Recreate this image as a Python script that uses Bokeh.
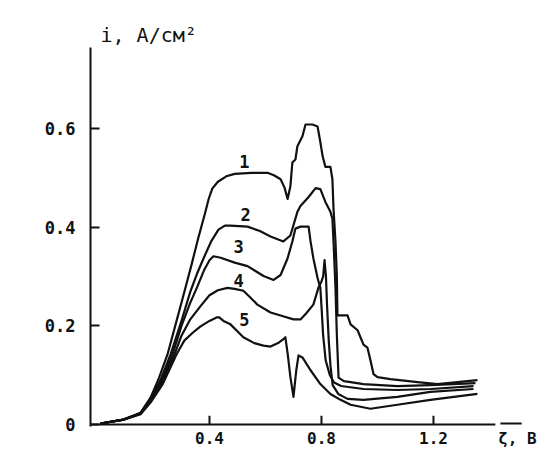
from bokeh.plotting import figure
from bokeh.models import Range1d, FixedTicker, ColumnDataSource
from bokeh.core.properties import value
from bokeh.embed import file_html
from bokeh.resources import INLINE

# ---- data (potential, V ; current density, A/cm2) ----
x1 = [0.011, 0.093, 0.154, 0.19, 0.22, 0.25, 0.28, 0.307, 0.335, 0.36, 0.385, 0.397, 0.41, 0.43, 0.46, 0.49, 0.55, 0.607, 0.63, 0.654,
      0.668, 0.679, 0.689, 0.696, 0.707, 0.714, 0.732, 0.743, 0.768, 0.786, 0.796, 0.804, 0.814, 0.832, 0.839, 0.843, 0.85, 0.855, 0.857, 0.893,
      0.904, 0.929, 0.95, 0.964, 0.975, 0.986, 1.0, 1.046, 1.143, 1.214, 1.286, 1.357]
y1 = [0.002, 0.010, 0.024, 0.055, 0.095, 0.142, 0.205, 0.262, 0.322, 0.378, 0.43, 0.457, 0.478, 0.492, 0.503, 0.508, 0.51, 0.51, 0.505, 0.497,
      0.48, 0.457, 0.483, 0.531, 0.537, 0.564, 0.584, 0.608, 0.608, 0.604, 0.572, 0.544, 0.522, 0.522, 0.497, 0.437, 0.371, 0.30, 0.221, 0.221,
      0.203, 0.191, 0.162, 0.156, 0.13, 0.102, 0.096, 0.092, 0.086, 0.082, 0.086, 0.09]

x2 = [0.011, 0.093, 0.154, 0.19, 0.225, 0.261, 0.30, 0.332, 0.355, 0.379, 0.405, 0.432, 0.455, 0.475, 0.536, 0.58, 0.618, 0.664, 0.689, 0.714,
      0.725, 0.754, 0.779, 0.796, 0.814, 0.832, 0.839, 0.843, 0.85, 0.855, 0.861, 0.88, 0.904, 0.95, 1.071, 1.189, 1.35]
y2 = [0.002, 0.010, 0.023, 0.052, 0.09, 0.142, 0.21, 0.27, 0.305, 0.337, 0.37, 0.395, 0.403, 0.403, 0.401, 0.392, 0.381, 0.371, 0.383, 0.431,
      0.443, 0.461, 0.479, 0.477, 0.451, 0.431, 0.417, 0.371, 0.277, 0.18, 0.095, 0.088, 0.086, 0.082, 0.078, 0.08, 0.084]

x3 = [0.011, 0.093, 0.154, 0.19, 0.228, 0.268, 0.30, 0.33, 0.357, 0.38, 0.40, 0.414, 0.44, 0.49, 0.536, 0.593, 0.629, 0.654, 0.679, 0.696,
      0.707, 0.725, 0.754, 0.761, 0.771, 0.786, 0.796, 0.80, 0.806, 0.815, 0.83, 0.845, 0.87, 0.95, 1.07, 1.19, 1.343]
y3 = [0.002, 0.010, 0.023, 0.05, 0.088, 0.142, 0.20, 0.245, 0.28, 0.312, 0.333, 0.341, 0.338, 0.328, 0.321, 0.301, 0.293, 0.303, 0.337, 0.371,
      0.397, 0.401, 0.401, 0.371, 0.337, 0.297, 0.277, 0.24, 0.18, 0.13, 0.10, 0.085, 0.078, 0.072, 0.07, 0.072, 0.078]

x4 = [0.011, 0.093, 0.154, 0.19, 0.23, 0.275, 0.30, 0.33, 0.368, 0.40, 0.43, 0.464, 0.49, 0.521, 0.545, 0.571, 0.618, 0.66, 0.70, 0.725,
      0.745, 0.771, 0.789, 0.80, 0.806, 0.811, 0.816, 0.82, 0.826, 0.832, 0.84, 0.86, 0.893, 0.95, 1.071, 1.189, 1.343]
y4 = [0.002, 0.010, 0.022, 0.048, 0.085, 0.142, 0.18, 0.212, 0.24, 0.262, 0.272, 0.277, 0.275, 0.271, 0.258, 0.243, 0.227, 0.22, 0.213, 0.213,
      0.225, 0.243, 0.277, 0.29, 0.30, 0.333, 0.30, 0.24, 0.17, 0.12, 0.08, 0.062, 0.052, 0.05, 0.056, 0.066, 0.072]

x5 = [0.011, 0.093, 0.154, 0.19, 0.233, 0.282, 0.31, 0.34, 0.368, 0.40, 0.425, 0.435, 0.45, 0.475, 0.521, 0.56, 0.593, 0.618, 0.645, 0.664,
      0.671, 0.68, 0.689, 0.70, 0.71, 0.718, 0.732, 0.761, 0.796, 0.832, 0.868, 0.904, 0.975, 1.071, 1.189, 1.357]
y5 = [0.002, 0.010, 0.021, 0.045, 0.082, 0.142, 0.17, 0.186, 0.199, 0.21, 0.217, 0.217, 0.21, 0.203, 0.177, 0.165, 0.16, 0.158, 0.165, 0.173,
      0.177, 0.14, 0.096, 0.056, 0.11, 0.14, 0.136, 0.11, 0.082, 0.062, 0.05, 0.04, 0.032, 0.04, 0.05, 0.062]

curve_names = ["1", "2", "3", "4", "5"]
name_x = [0.525, 0.529, 0.504, 0.504, 0.525]
name_y = [0.532, 0.426, 0.36, 0.292, 0.212]

x_ticks = [0.4, 0.8, 1.2]
x_tick_labels = ["0.4", "0.8", "1.2"]
y_ticks = [0, 0.2, 0.4, 0.6]
y_tick_labels = ["0", "0.2", "0.4", "0.6"]
y_title = "i, A/см²"
x_title = "ζ, В"
x_title_pos = 1.5
x_axis_end = 1.421

FONT = "DejaVu Sans Mono"
INK = "#111111"

X0, X1 = -0.025, 1.518
p = figure(width=545, height=450, output_backend="svg", toolbar_location=None,
           x_range=Range1d(X0, X1), y_range=Range1d(-0.004, 0.764),
           min_border_left=90, min_border_right=23, min_border_top=47, min_border_bottom=20)
p.outline_line_color = None
p.grid.visible = False
p.background_fill_color = "white"
p.border_fill_color = "white"

# y axis (Bokeh's own)
p.yaxis.ticker = FixedTicker(ticks=y_ticks)
p.yaxis.major_label_overrides = {t: s for t, s in zip(y_ticks, y_tick_labels)}
p.yaxis.minor_tick_line_color = None
p.yaxis.major_tick_in = 9
p.yaxis.major_tick_out = 0
p.yaxis.axis_line_width = 2
p.yaxis.axis_line_color = INK
p.yaxis.major_tick_line_width = 2
p.yaxis.major_tick_line_color = INK
p.yaxis.major_label_text_font = FONT
p.yaxis.major_label_text_font_size = "17px"
p.yaxis.major_label_text_font_style = "bold"
p.yaxis.major_label_text_color = INK
p.yaxis.major_label_standoff = 15

# x axis: labels from Bokeh (the axis title sits at the end as a label), line + ticks drawn in the frame
xt = x_ticks + [x_title_pos]
p.xaxis.ticker = FixedTicker(ticks=xt)
p.xaxis.major_label_overrides = {t: s for t, s in zip(xt, x_tick_labels + [x_title])}
p.xaxis.minor_tick_line_color = None
p.xaxis.major_tick_line_color = None
p.xaxis.axis_line_color = None
p.xaxis.major_tick_in = 0
p.xaxis.major_tick_out = 0
p.xaxis.major_label_text_font = FONT
p.xaxis.major_label_text_font_size = "16px"
p.xaxis.major_label_text_font_style = "bold"
p.xaxis.major_label_text_color = INK
p.xaxis.major_label_standoff = 2

p.segment(x0=[X0, x_axis_end + 0.018], y0=[0, 0.002], x1=[x_axis_end, X1 - 0.003], y1=[0, 0.002],
          line_color=INK, line_width=2)
p.segment(x0=x_ticks, y0=[0] * len(x_ticks), x1=x_ticks, y1=[0.018] * len(x_ticks),
          line_color=INK, line_width=2)

# y-axis title at the top
p.title.text = y_title
p.title.align = "left"
p.title.offset = 10
p.title.standoff = 2
p.title.text_font = FONT
p.title.text_font_size = "20px"
p.title.text_font_style = "normal"
p.title.text_color = INK

for xs, ys in ((x1, y1), (x2, y2), (x3, y3), (x4, y4), (x5, y5)):
    p.line(xs, ys, line_color=INK, line_width=2.2, line_join="round")

src = ColumnDataSource(dict(x=name_x, y=name_y, t=curve_names))
p.text(x="x", y="y", text="t", source=src, text_font=value(FONT), text_font_size="17px",
       text_font_style="bold", text_color=INK, text_align="center", text_baseline="middle")

open("out.html", "w").write(file_html(p, INLINE))
